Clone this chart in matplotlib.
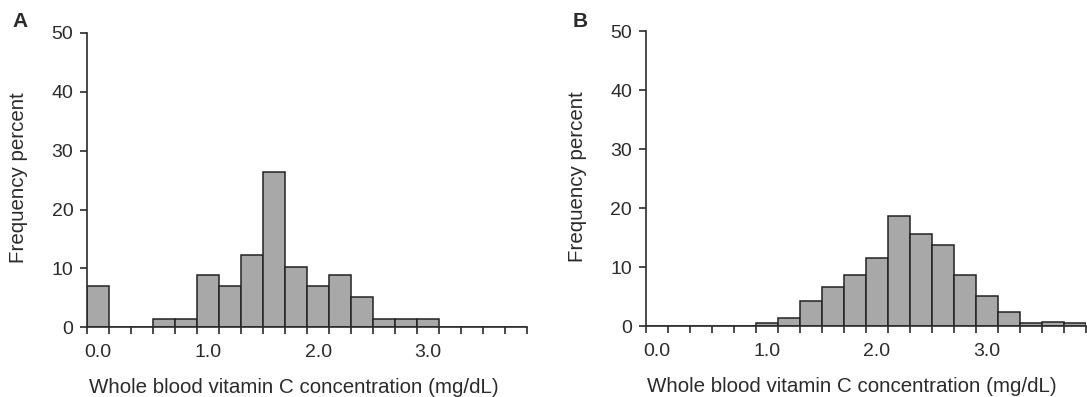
import matplotlib
matplotlib.use("Agg")
import matplotlib.pyplot as plt
import numpy as np

plt.rcParams['font.family'] = ['Liberation Sans', 'DejaVu Sans']

# bin centres (mg/dL), bin width 0.2
bin_centers = [0.0, 0.2, 0.4, 0.6, 0.8, 1.0, 1.2, 1.4, 1.6, 1.8,
               2.0, 2.2, 2.4, 2.6, 2.8, 3.0, 3.2, 3.4, 3.6, 3.8]
freq_a = [7.0, 0, 0, 1.4, 1.4, 8.9, 7.0, 12.3, 26.3, 10.3,
          7.0, 8.9, 5.1, 1.4, 1.4, 1.4, 0, 0, 0, 0]
freq_b = [0, 0, 0, 0, 0, 0.5, 1.4, 4.2, 6.6, 8.6,
          11.6, 18.7, 15.6, 13.7, 8.7, 5.1, 2.3, 0.5, 0.7, 0.5]
xtick_vals = [0.0, 1.0, 2.0, 3.0]
ytick_vals = [0, 10, 20, 30, 40, 50]
bin_width = 0.2

fig = plt.figure(figsize=(10.87, 3.97), dpi=100)
ax_a = fig.add_axes([0.0803, 0.1756, 0.4045, 0.7413])
ax_b = fig.add_axes([0.5943, 0.1788, 0.4045, 0.7431])

ink = '#2b2b2b'
panels = [(ax_a, freq_a, 'A', 12 / 1087), (ax_b, freq_b, 'B', 573 / 1087)]
for ax, vals, letter, lx in panels:
    ax.bar(bin_centers, vals, width=bin_width, color='#a8a8a8',
           edgecolor='#222222', linewidth=1.1, zorder=2)
    ax.set_xlim(bin_centers[0] - bin_width / 2, bin_centers[-1] + bin_width / 2)
    ax.set_ylim(0, 50)
    for s in ['top', 'right']:
        ax.spines[s].set_visible(False)
    for s in ['left', 'bottom']:
        ax.spines[s].set_color(ink)
        ax.spines[s].set_linewidth(1.2)
    ax.set_yticks(ytick_vals)
    ax.set_xticks(xtick_vals)
    ax.set_xticklabels([f"{v:.1f}" for v in xtick_vals])
    edges = np.array(bin_centers) - bin_width / 2
    ax.set_xticks(list(edges) + [bin_centers[-1] + bin_width / 2], minor=True)
    ax.tick_params(axis='x', which='major', length=0, pad=12, labelsize=14, colors=ink)
    ax.tick_params(axis='x', which='minor', length=5, width=1.2, color=ink)
    ax.tick_params(axis='y', length=5, width=1.2, labelsize=14, colors=ink, pad=5)
    ax.set_xlabel("Whole blood vitamin C concentration (mg/dL)", fontsize=14.75,
                  color=ink, va='baseline')
    ax.xaxis.set_label_coords(0.469, -0.223)
    ax.set_ylabel("Frequency percent", fontsize=14.75, color=ink, va='center')
    ax.yaxis.set_label_coords(-0.156, 0.507)
    fig.text(lx, 1 - 27 / 397, letter, fontsize=15, fontweight='bold',
             color=ink, va='baseline')

fig.savefig("out.png", dpi=100)
